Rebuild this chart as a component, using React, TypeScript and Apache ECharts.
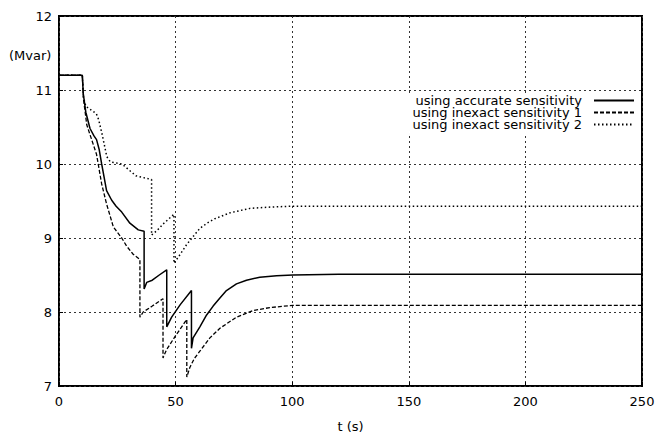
import React, { useEffect, useRef } from "react";
import * as echarts from "echarts";

const seriesNames = [
  "using accurate sensitivity",
  "using inexact sensitivity 1",
  "using inexact sensitivity 2",
];

const tAccurate = [0, 10, 10.4, 11.5, 13.3, 15, 16.1, 17.2, 18.3, 20.4, 22.6, 24.5, 26.9, 30.4, 34, 36.5, 36.5, 37.6, 40, 43, 46.2, 46.2, 48.3, 52, 56.8, 56.8, 57.5, 60.4, 63.3, 66.1, 69, 71.8, 76.1, 80.4, 86.1, 93.3, 100.4, 120, 250];
const vAccurate = [11.2, 11.2, 10.95, 10.7, 10.48, 10.38, 10.33, 10.2, 10.0, 9.64, 9.51, 9.43, 9.35, 9.2, 9.11, 9.09, 8.31, 8.4, 8.43, 8.5, 8.57, 7.8, 7.93, 8.1, 8.29, 7.51, 7.65, 7.8, 7.96, 8.08, 8.19, 8.29, 8.38, 8.43, 8.47, 8.49, 8.5, 8.51, 8.51];

const tInexact1 = [0, 10, 10.5, 11.9, 14, 16.1, 18.3, 20.4, 23.3, 26.9, 29, 31.8, 34.7, 34.7, 36.1, 40, 44.6, 44.6, 46.1, 50, 54.8, 54.8, 56.1, 58, 60.4, 64.7, 69, 76.1, 83.2, 90.4, 100.4, 120, 250];
const vInexact1 = [11.2, 11.2, 10.88, 10.53, 10.33, 10.13, 9.73, 9.46, 9.15, 9.0, 8.89, 8.78, 8.71, 7.93, 8.0, 8.08, 8.18, 7.38, 7.49, 7.68, 7.9, 7.12, 7.25, 7.37, 7.47, 7.65, 7.78, 7.93, 8.02, 8.06, 8.09, 8.09, 8.09];

const tInexact2 = [0, 10, 10.5, 11.5, 16, 17, 18.5, 20.5, 22, 27, 30, 33, 39.7, 39.7, 42, 45, 49.3, 49.3, 52, 54.7, 57, 60.4, 63.5, 66.8, 73.3, 81.8, 91.8, 100.4, 250];
const vInexact2 = [11.2, 11.2, 10.9, 10.78, 10.68, 10.6, 10.4, 10.1, 10.03, 10.0, 9.92, 9.84, 9.79, 9.04, 9.1, 9.2, 9.32, 8.66, 8.78, 8.91, 9.0, 9.13, 9.2, 9.26, 9.34, 9.4, 9.42, 9.43, 9.43];

const xMin = 0, xMax = 250, xStep = 50;
const yMin = 7, yMax = 12, yStep = 1;
const xName = "t (s)";
const yName = "(Mvar)";

const FONT = '"DejaVu Sans", sans-serif';

function zip(t: number[], v: number[]) {
  return t.map((x, i) => [x, v[i]]);
}

export default function App() {
  const ref = useRef<HTMLDivElement>(null);
  useEffect(() => {
    if (!ref.current) return;
    const chart = echarts.init(ref.current, undefined, { renderer: "svg" });
    const gridLine = { show: true, lineStyle: { color: "#333", width: 1, type: [2, 3] as any } };
    chart.setOption({
      animation: false,
      backgroundColor: "#fff",
      textStyle: { fontFamily: FONT },
      grid: { left: 59, right: 18, top: 16, bottom: 46, show: true, borderColor: "#000", borderWidth: 2, backgroundColor: "transparent" },
      xAxis: {
        type: "value", min: xMin, max: xMax, interval: xStep,
        name: xName, nameLocation: "middle", nameGap: 34,
        nameTextStyle: { color: "#000", fontSize: 13, fontFamily: FONT },
        axisLine: { show: false },
        axisTick: { show: true, inside: true, length: 4, lineStyle: { color: "#000" } },
        axisLabel: { color: "#000", fontSize: 13, fontFamily: FONT, margin: 9 },
        splitLine: gridLine,
      },
      yAxis: {
        type: "value", min: yMin, max: yMax, interval: yStep,
        axisLine: { show: false },
        axisTick: { show: true, inside: true, length: 4, lineStyle: { color: "#000" } },
        axisLabel: { color: "#000", fontSize: 13, fontFamily: FONT, margin: 7 },
        splitLine: gridLine,
      },
      legend: {
        data: seriesNames,
        orient: "vertical",
        align: "right",
        right: 21,
        top: 94,
        padding: [0, 4, 3, 8],
        itemGap: -1,
        itemWidth: 40,
        itemHeight: 11,
        backgroundColor: "#fff",
        itemStyle: { opacity: 0, color: "transparent", borderColor: "transparent" },
        textStyle: { color: "#000", fontSize: 13, fontFamily: FONT, lineHeight: 11, padding: [0, 7, 0, 0] },
      },
      graphic: [
        { type: "text", left: 9, top: 49, style: { text: yName, fill: "#000", font: `13px ${FONT}` } },
      ],
      series: [
        {
          name: seriesNames[2], type: "line", data: zip(tInexact2, vInexact2), symbol: "none", z: 2,
          lineStyle: { color: "#000", width: 1.5, type: [1.5, 2.5] as any },
        },
        {
          name: seriesNames[1], type: "line", data: zip(tInexact1, vInexact1), symbol: "none", z: 3,
          lineStyle: { color: "#000", width: 1.3, type: [4, 2] as any },
        },
        {
          name: seriesNames[0], type: "line", data: zip(tAccurate, vAccurate), symbol: "none", z: 4,
          lineStyle: { color: "#000", width: 1.5, type: "solid" },
        },
      ],
    });
    return () => chart.dispose();
  }, []);
  return <div ref={ref} style={{ position: "fixed", left: 0, top: 0, width: 660, height: 438, background: "#fff" }} />;
}
